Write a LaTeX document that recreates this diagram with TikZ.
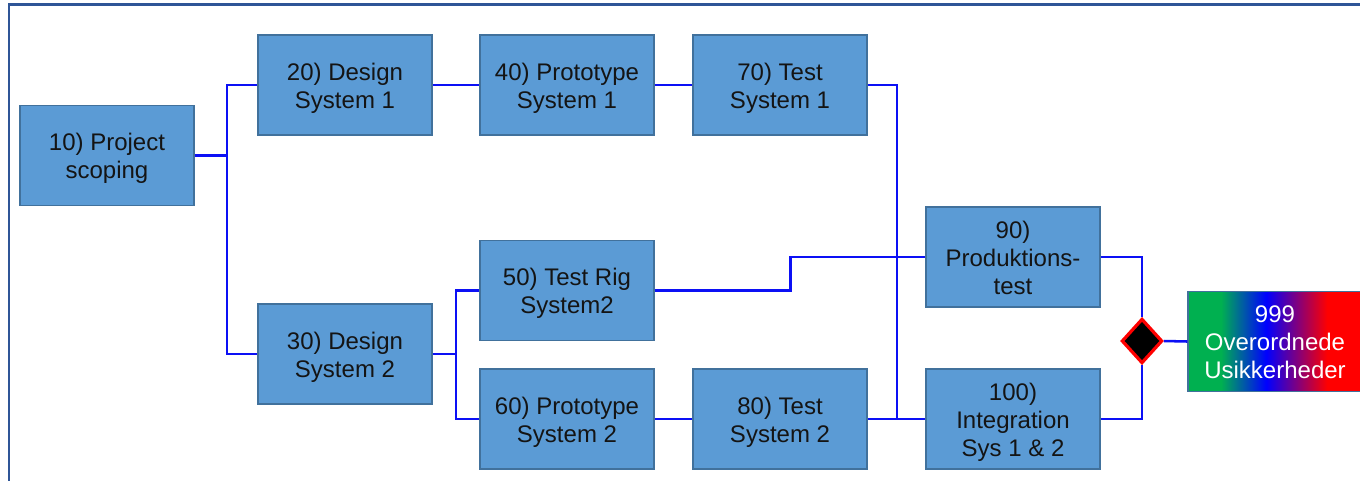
\documentclass[tikz,border=0pt]{standalone}
\usepackage{fontspec}
\setmainfont{Liberation Sans}
\usetikzlibrary{shapes.geometric}
\definecolor{boxfill}{HTML}{5B9BD5}
\definecolor{boxline}{HTML}{41719C}
\definecolor{frameblue}{HTML}{2F5597}
\definecolor{linkblue}{HTML}{0C10F5}
\definecolor{ggreen}{HTML}{00B050}
\definecolor{txt}{HTML}{141414}
\newcommand{\tp}{\rule{0pt}{17.6pt}}
\newcommand{\bt}{\rule[-4pt]{0pt}{4pt}}
\pgfdeclarehorizontalshading{rgbbar}{100bp}{color(0bp)=(ggreen); color(34.5bp)=(ggreen); color(47.5bp)=(blue); color(65bp)=(red); color(100bp)=(red)}
\tikzset{
  taskbox/.style={rectangle, draw=boxline, line width=1pt, fill=boxfill,
    minimum width=130.5pt, minimum height=75pt, inner sep=2pt, align=center,
    text=txt, font=\fontsize{18}{21}\selectfont},
  finalbox/.style={taskbox, shading=rgbbar, text=white},
  link/.style={draw=linkblue, line width=1.9pt},
  gate/.style={diamond, draw=red, line width=2.4pt, fill=black,
    minimum width=30.5pt, minimum height=33.5pt, inner sep=0pt}
}
\begin{document}
\begin{tikzpicture}[x=0.75pt, y=-0.75pt]
\useasboundingbox (0,0) rectangle (1360,480);
\fill[white] (0,0) rectangle (1360,480);
\draw[frameblue, line width=1.6pt] (9,4.5) rectangle (1420,520);

\node[taskbox] (n10) at (107,155.5) {\tp 10) Project\\scoping\bt};
\node[taskbox] (n20) at (345,85) {\tp 20) Design\\System 1\bt};
\node[taskbox] (n40) at (567,85) {\tp 40) Prototype\\System 1\bt};
\node[taskbox] (n70) at (780,85) {\tp 70) Test\\System 1\bt};
\node[taskbox] (n30) at (345,354) {\tp 30) Design\\System 2\bt};
\node[taskbox] (n50) at (567,290.5) {\tp 50) Test Rig\\System2\bt};
\node[taskbox] (n60) at (567,419) {\tp 60) Prototype\\System 2\bt};
\node[taskbox] (n80) at (780,419) {\tp 80) Test\\System 2\bt};
\node[taskbox] (n90) at (1013,257) {\tp 90)\\Produktions-\\test\bt};
\node[taskbox] (n100) at (1013,419) {\tp 100)\\Integration\\Sys 1 \& 2\bt};
\node[finalbox] (n999) at (1275,341.5) {\tp 999\\Overordnede\\Usikkerheder\bt};
\node[gate] (dia) at (1142,341) {};

\coordinate (j1) at (227,155.5);
\coordinate (j2) at (456,354);
\coordinate (j3) at (897,419);

\draw[link] (n10.east) -- (j1);
\draw[link] (n20.west) -| (j1) |- (n30.west);
\draw[link] (n20.east) -- (n40.west);
\draw[link] (n40.east) -- (n70.west);
\draw[link] (n30.east) -- (j2);
\draw[link] (n50.west) -| (j2) |- (n60.west);
\draw[link] (n50.east) -- ++(136,0) |- (n90.west);
\draw[link] (n60.east) -- (n80.west);
\draw[link] (n80.east) -- (n100.west);
\draw[link] (n70.east) -| (j3);
\draw[link] (n90.east) -| (dia.north);
\draw[link] (n100.east) -| (dia.south);
\draw[link] (dia.east) -- (n999.west);
\end{tikzpicture}
\end{document}
